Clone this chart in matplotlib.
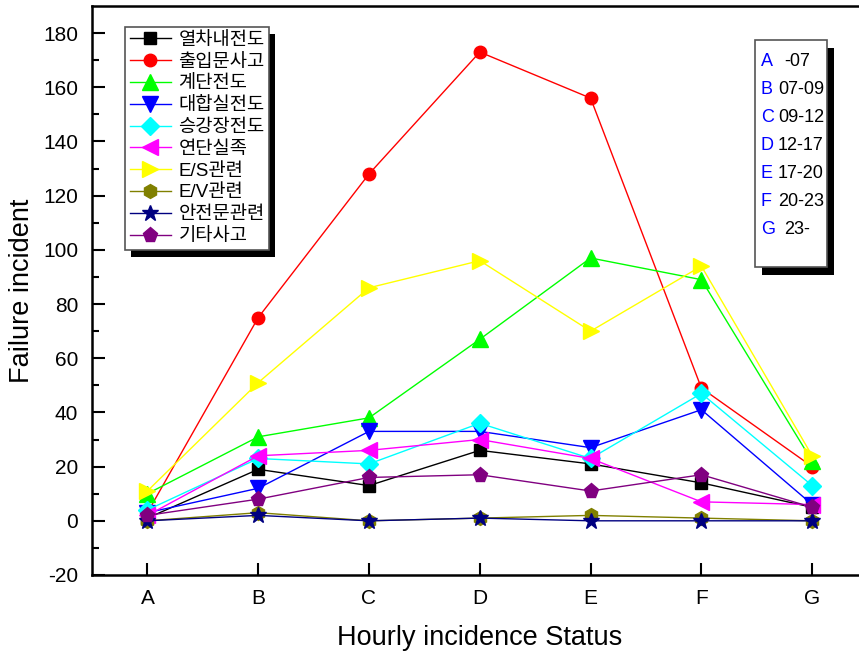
import matplotlib.pyplot as plt
from matplotlib.patches import Rectangle

plt.rcParams['font.family'] = ['Liberation Sans', 'Noto Sans CJK KR', 'DejaVu Sans']
plt.rcParams['axes.unicode_minus'] = False

categories = ["A", "B", "C", "D", "E", "F", "G"]
time_ranges = ["-07", "07-09", "09-12", "12-17", "17-20", "20-23", "23-"]

names = ["열차내전도", "출입문사고", "계단전도", "대합실전도", "승강장전도",
         "연단실족", "E/S관련", "E/V관련", "안전문관련", "기타사고"]
train_fall = [1, 19, 13, 26, 21, 14, 5]
door = [3, 75, 128, 173, 156, 49, 20]
stairs = [10, 31, 38, 67, 97, 89, 22]
hall_fall = [3, 12, 33, 33, 27, 41, 6]
platform_fall = [4, 23, 21, 36, 23, 47, 13]
edge_slip = [2, 24, 26, 30, 23, 7, 6]
escalator = [11, 51, 86, 96, 70, 94, 24]
elevator = [0, 3, 0, 1, 2, 1, 0]
screen_door = [0, 2, 0, 1, 0, 0, 0]
other = [2, 8, 16, 17, 11, 17, 5]

series = [train_fall, door, stairs, hall_fall, platform_fall,
          edge_slip, escalator, elevator, screen_door, other]
colors = ["#000000", "#FF0000", "#00FF00", "#0000FF", "#00FFFF",
          "#FF00FF", "#FFFF00", "#808000", "#000080", "#800080"]
markers = ["s", "o", "^", "v", "D", "<", ">", "h", "*", "p"]
sizes = [8, 9, 11, 11, 9, 11, 11, 10, 12, 11]

fig = plt.figure(figsize=(8.59, 6.57), dpi=100)
ax = fig.add_axes([92 / 859, 82 / 657, 1 - 92 / 859 + 0.01, (575 - 6) / 657])

x = list(range(len(categories)))
for vals, name, c, m, s in zip(series, names, colors, markers, sizes):
    ax.plot(x, vals, color=c, marker=m, markersize=s, linewidth=1,
            markeredgecolor=c, label=name)

ax.set_xlim(-0.5, 6.5)
ax.set_ylim(-20, 190)
ax.set_xticks(x)
ax.set_xticklabels(categories)
ax.set_yticks(range(-20, 181, 20))
ax.set_yticks(range(-10, 190, 20), minor=True)
ax.tick_params(axis="both", which="major", direction="in", length=9, width=1.5,
               labelsize=15)
ax.tick_params(axis="y", which="major", pad=10)
ax.tick_params(axis="x", which="major", pad=10)
ax.tick_params(axis="y", which="minor", direction="in", length=5, width=1.5)
for sp in ax.spines.values():
    sp.set_linewidth(1.8)
ax.set_xlabel("Hourly incidence Status", fontsize=19.5, labelpad=12)
ax.set_ylabel("Failure incident", fontsize=19.5, labelpad=6)

leg = ax.legend(loc="upper left", bbox_to_anchor=(125 / 859, 1 - 27 / 657),
                bbox_transform=fig.transFigure, fontsize=13.5, frameon=True,
                fancybox=False, edgecolor="#555555", framealpha=1,
                borderaxespad=0, borderpad=0.25, labelspacing=0.25,
                handlelength=2.2, handletextpad=0.4)
leg.get_frame().set_linewidth(1.2)
leg.set_zorder(10)

fig.canvas.draw()
bb = leg.get_window_extent()
shadow = Rectangle((bb.x0 + 6, bb.y0 - 7), bb.width, bb.height, transform=None,
                   facecolor="black", edgecolor="none", zorder=9, clip_on=False)
ax.add_artist(shadow)

# time range box
bx0, by0, bw, bh = 755, 657 - 267, 72, 227
fig.patches.append(Rectangle((bx0 + 7, by0 - 8), bw, bh, transform=None,
                             facecolor="black", edgecolor="none", zorder=9))
fig.patches.append(Rectangle((bx0, by0), bw, bh, transform=None,
                             facecolor="white", edgecolor="#555555",
                             linewidth=1.2, zorder=10))
for i, (cat, tr) in enumerate(zip(categories, time_ranges)):
    ty = 657 - (61 + i * 28)
    fig.text(761 / 859, ty / 657, cat, color="#0000FF", fontsize=13,
             va="center", ha="left", zorder=11)
    offs = 784 if tr in ("-07", "23-") else 778
    fig.text(offs / 859, ty / 657, tr, color="black", fontsize=13,
             va="center", ha="left", zorder=11)

fig.savefig("out.png", dpi=100)
